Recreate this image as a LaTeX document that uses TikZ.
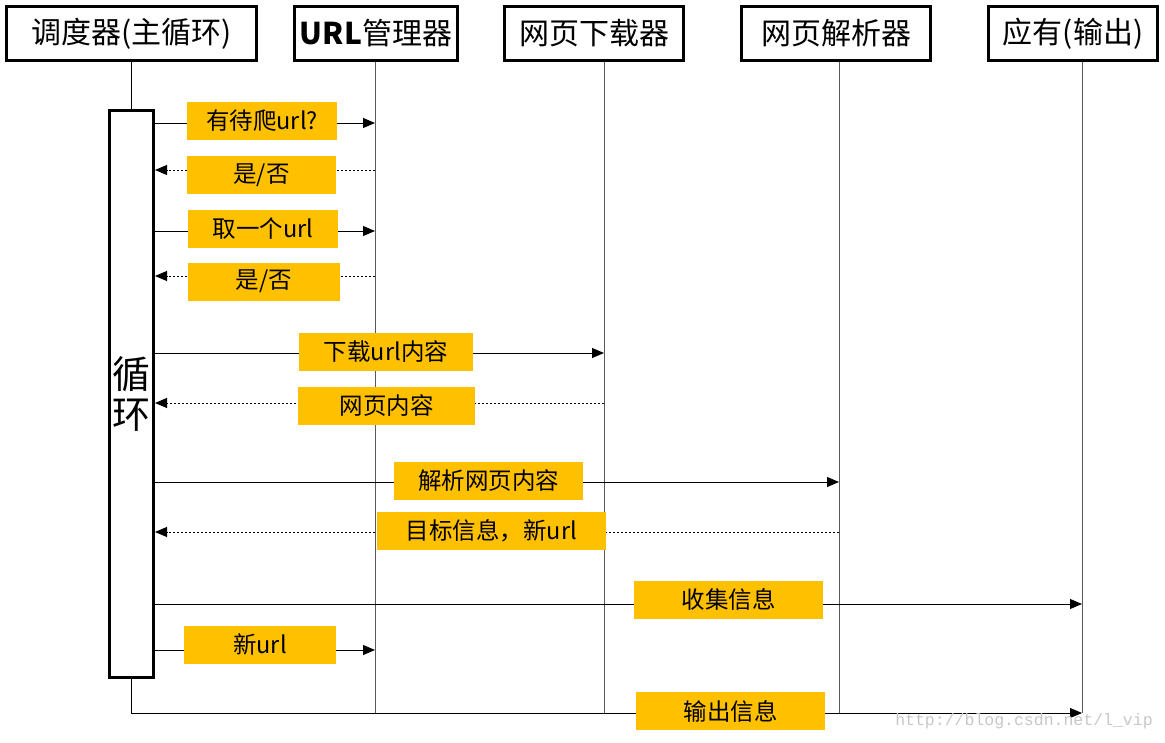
\documentclass[tikz,border=0pt]{standalone}
\usepackage{fontspec}
\setmainfont{Liberation Serif}
\newfontfamily\cjk{Noto Sans CJK SC}
\newfontfamily\wmfont{Liberation Mono}
\usetikzlibrary{arrows.meta}
\definecolor{gold}{HTML}{FFC000}

\begin{document}
\begin{tikzpicture}[x=1pt,y=-1pt,
	head/.style={draw, line width=3pt, minimum height=54, inner sep=0pt, font=\cjk\fontsize{30}{32}\selectfont},
	lbl/.style={fill=gold, minimum height=38, inner sep=0pt, font=\cjk\fontsize{23.5}{26}\selectfont},
	life/.style={line width=1pt, black!65},
	msg/.style={line width=0.9pt, -{Triangle[length=12pt,width=10pt]}},
	reply/.style={msg, dash pattern=on 2.5pt off 1.5pt}]
	\useasboundingbox (0,0) rectangle (1165,742);
	% header boxes
	\node[head, minimum width=250] (sched) at (131.5,33.5) {调度器(主循环)};
	\node[head, minimum width=163] (urlman) at (376,33.5) {{\bfseries URL}管理器};
	\node[head, minimum width=179] (down) at (594,33.5) {网页下载器};
	\node[head, minimum width=189] (parse) at (836,33.5) {网页解析器};
	\node[head, minimum width=169] (output) at (1073,33.5) {应有(输出)};
	% lifelines
	\coordinate (L2) at (375,713);
	\coordinate (L3) at (604,713);
	\coordinate (L4) at (839,713);
	\coordinate (L5) at (1082,713);
	\draw[life] (urlman.south -| L2) -- (L2);
	\draw[life] (down.south -| L3) -- (L3);
	\draw[life] (parse.south -| L4) -- (L4);
	\draw[life] (output.south -| L5) -- (L5);
	% main loop
	\node[draw, line width=3pt, minimum width=44, minimum height=567, inner sep=0pt, align=center,
		font=\cjk\fontsize{38}{40}\selectfont] (loop) at (131.5,394) {循\\环};
	\draw[line width=1.2pt] (sched) -- (loop);
	% message rows
	\coordinate (r1) at (0,123);
	\coordinate (r2) at (0,170);
	\coordinate (r3) at (0,231);
	\coordinate (r4) at (0,276);
	\coordinate (r5) at (0,353);
	\coordinate (r6) at (0,403);
	\coordinate (r7) at (0,482);
	\coordinate (r8) at (0,532);
	\coordinate (r9) at (0,604);
	\coordinate (r10) at (0,650);
	\coordinate (r11) at (0,713);
	\draw[msg] (loop.east |- r1) -- (L2 |- r1);
	\draw[reply] (L2 |- r2) -- (loop.east |- r2);
	\draw[msg] (loop.east |- r3) -- (L2 |- r3);
	\draw[reply] (L2 |- r4) -- (loop.east |- r4);
	\draw[msg] (loop.east |- r5) -- (L3 |- r5);
	\draw[reply] (L3 |- r6) -- (loop.east |- r6);
	\draw[msg] (loop.east |- r7) -- (L4 |- r7);
	\draw[reply] (L4 |- r8) -- (loop.east |- r8);
	\draw[msg] (loop.east |- r9) -- (L5 |- r9);
	\draw[msg] (loop.east |- r10) -- (L2 |- r10);
	\draw[msg] (loop.south) |- (L5 |- r11);
	% labels
	\node[lbl, minimum width=150] (m1) at (262,121) {有待爬url?};
	\node[lbl, minimum width=149] (m2) at (261.5,175) {是/否};
	\node[lbl, minimum width=150] (m3) at (263,229) {取一个url};
	\node[lbl, minimum width=152] (m4) at (264,281.5) {是/否};
	\node[lbl, minimum width=174] (m5) at (386,351.5) {下载url内容};
	\node[lbl, minimum width=177] (m6) at (386.5,405.5) {网页内容};
	\node[lbl, minimum width=189] (m7) at (488.5,481) {解析网页内容};
	\node[lbl, minimum width=229] (m8) at (491.5,531) {目标信息，新url};
	\node[lbl, minimum width=189] (m9) at (728.5,599.5) {收集信息};
	\node[lbl, minimum width=152] (m10) at (260,644.5) {新url};
	\node[lbl, minimum width=189] (m11) at (730.5,711) {输出信息};
	\node[font=\wmfont\fontsize{16.5}{18}\selectfont, text=black!22] (mark) at (1024,721) {http://blog.csdn.net/l\_vip};
\end{tikzpicture}
\end{document}
